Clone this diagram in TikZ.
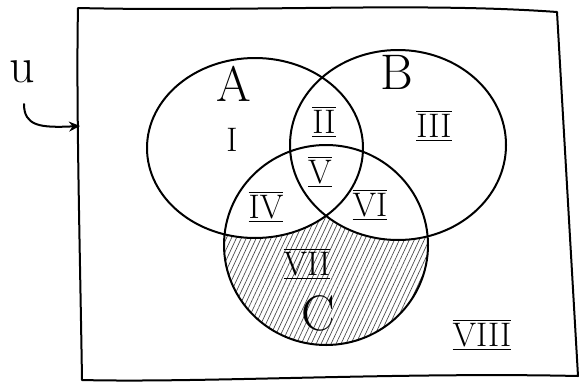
\documentclass[tikz,border=0pt]{standalone}
\usetikzlibrary{patterns.meta,arrows.meta}
\newcommand{\rnum}[1]{\setbox0\hbox{#1}\vbox{\hrule width\wd0 height 1.6pt\kern2pt\copy0\kern2pt\hrule width\wd0 height 1.6pt}}
\tikzset{
  pen/.style={line width=2pt, line cap=round, line join=round},
  lbl/.style={font=\fontsize{50}{54}\selectfont, inner sep=0pt},
  rlbl/.style={font=\fontsize{34}{38}\selectfont, inner sep=0pt},
}
\begin{document}
\begin{tikzpicture}[x=1pt,y=-1pt]
\useasboundingbox (0,0) rectangle (586,383);
% universe rectangle
\draw[pen] (78,8) .. controls (250,12) and (420,2) .. (557,12)
  -- (578,376) .. controls (400,372) and (200,383) .. (82,380)
  .. controls (80,250) and (76,100) .. cycle;
% shading C only
\begin{scope}
  \clip (326,245) ellipse [x radius=102pt, y radius=100pt];
  \fill[pattern={Lines[angle=65,distance=4.5pt,line width=0.7pt]},pattern color=black!70] (326,245) ellipse [x radius=102pt, y radius=100pt];
  \fill[white] (255,148) ellipse [x radius=108pt, y radius=90pt];
  \fill[white] (398,145) ellipse [x radius=108pt, y radius=95pt];
\end{scope}
% circles
\draw[pen] (255,148) ellipse [x radius=108pt, y radius=90pt];
\draw[pen] (398,145) ellipse [x radius=108pt, y radius=95pt];
\draw[pen] (326,245) ellipse [x radius=102pt, y radius=100pt];
% set labels
\node[lbl] (la) at (234,84) {A};
\node[lbl] (lb) at (397,72) {B};
\node[lbl] (lc) at (318,313) {C};
\node[lbl] (lu) at (22,72) {u};
% region labels
\node[rlbl] (r1) at (232,140) {I};
\node[rlbl] (r2) at (324,122) {\rnum{II}};
\node[rlbl] (r3) at (434,126) {\rnum{III}};
\node[rlbl] (r4) at (266,207) {\rnum{IV}};
\node[rlbl] (r5) at (320,172) {\rnum{V}};
\node[rlbl] (r6) at (370,205) {\rnum{VI}};
\node[rlbl] (r7) at (307,264) {\rnum{VII}};
\node[rlbl] (r8) at (482,335) {\rnum{VIII}};
% arrow from U
\coordinate (us) at (24,104);
\coordinate (ue) at (80,126);
\draw[pen,-{Stealth[length=11pt,width=10pt]}] (us) .. controls (24,126) and (40,128) .. (ue);
\end{tikzpicture}
\end{document}
